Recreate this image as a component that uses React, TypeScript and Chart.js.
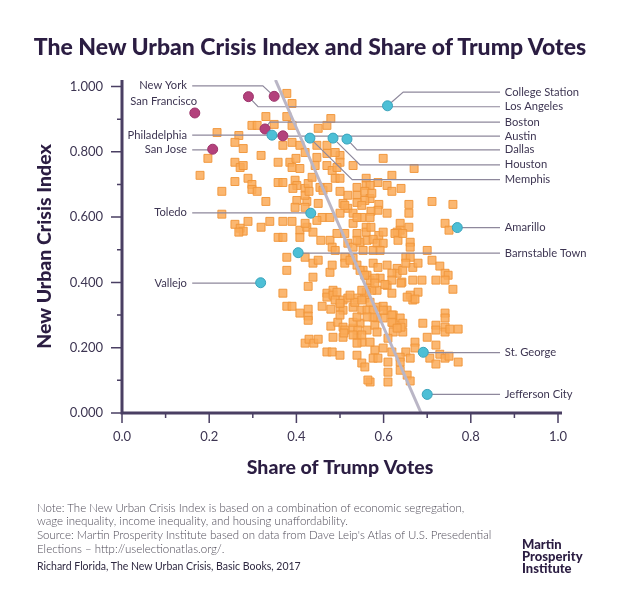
import React, { useEffect, useRef } from "react";
import { Chart, registerables } from "chart.js";

Chart.register(...registerables);

const TITLE = "The New Urban Crisis Index and Share of Trump Votes";
const X_TITLE = "Share of Trump Votes";
const Y_TITLE = "New Urban Crisis Index";

const xMajorTicks = [0, 0.2, 0.4, 0.6, 0.8, 1.0];
const xMinorTicks = [0.1, 0.3, 0.5, 0.7, 0.9];
const yMajorTicks = [0, 0.2, 0.4, 0.6, 0.8, 1.0];
const yMinorTicks = [0.1, 0.3, 0.5, 0.7, 0.9];

// Highlighted metros (magenta)
const magentaCities = ["New York", "Los Angeles", "San Francisco", "Boston", "Philadelphia", "San Jose"];
const magentaX = [0.349, 0.290, 0.167, 0.328, 0.369, 0.208];
const magentaY = [0.970, 0.969, 0.919, 0.870, 0.849, 0.808];

// Highlighted metros (teal)
const tealCities = ["College Station", "Austin", "Memphis", "Houston", "Dallas", "Toledo", "Barnstable Town", "Vallejo", "Amarillo", "St. George", "Jefferson City"];
const tealX = [0.609, 0.344, 0.431, 0.484, 0.516, 0.433, 0.404, 0.318, 0.769, 0.691, 0.700];
const tealY = [0.941, 0.851, 0.842, 0.842, 0.839, 0.612, 0.491, 0.399, 0.568, 0.186, 0.057];

// Trend line end points
const trendX = [0.352, 0.686];
const trendY = [1.02, 0];

// All other metros: [share of Trump votes, New Urban Crisis Index]
const otherMetros: [number, number][] = [
  [0.218,0.859],[0.268,0.850],[0.259,0.829],[0.278,0.810],[0.319,0.789],[0.197,0.780],[0.179,0.728],[0.259,0.768],[0.271,0.752],[0.278,0.758],
  [0.259,0.709],[0.289,0.719],[0.298,0.700],[0.298,0.685],[0.310,0.679],[0.229,0.679],[0.330,0.648],[0.229,0.609],[0.259,0.578],[0.271,0.566],
  [0.278,0.557],[0.289,0.587],[0.319,0.569],[0.339,0.587],[0.268,0.554],[0.330,0.908],[0.298,0.881],[0.310,0.881],
  [0.378,0.979],[0.390,0.948],[0.378,0.908],[0.349,0.884],[0.390,0.881],[0.450,0.872],[0.470,0.881],[0.479,0.902],[0.369,0.820],[0.390,0.829],
  [0.408,0.820],[0.420,0.798],[0.447,0.820],[0.470,0.820],[0.470,0.795],[0.358,0.768],[0.385,0.768],[0.399,0.780],[0.390,0.752],[0.408,0.749],
  [0.447,0.783],[0.443,0.758],[0.470,0.758],[0.482,0.743],[0.358,0.706],[0.369,0.706],[0.397,0.713],[0.401,0.697],[0.392,0.688],[0.420,0.688],
  [0.427,0.703],[0.436,0.722],[0.454,0.691],[0.461,0.682],[0.472,0.691],[0.401,0.651],[0.424,0.648],[0.450,0.642],[0.420,0.667],[0.429,0.679],
  [0.369,0.587],[0.390,0.587],[0.408,0.560],[0.424,0.569],[0.438,0.554],[0.459,0.599],[0.477,0.599],[0.420,0.630],[0.397,0.630],[0.358,0.538],
  [0.369,0.538],[0.408,0.538],[0.420,0.581],[0.447,0.590],
  [0.599,0.780],[0.670,0.749],[0.530,0.758],[0.500,0.789],[0.489,0.798],[0.500,0.768],[0.493,0.752],[0.489,0.719],[0.500,0.719],[0.560,0.719],
  [0.560,0.697],[0.587,0.706],[0.608,0.697],[0.619,0.728],[0.640,0.688],[0.619,0.679],[0.569,0.697],[0.539,0.691],[0.539,0.667],[0.557,0.679],
  [0.569,0.657],[0.557,0.651],[0.518,0.667],[0.500,0.679],[0.507,0.642],[0.518,0.627],[0.539,0.645],[0.550,0.636],[0.589,0.639],[0.587,0.621],
  [0.571,0.618],[0.608,0.612],[0.658,0.639],[0.658,0.612],[0.711,0.648],[0.759,0.639],[0.500,0.612],[0.530,0.612],[0.530,0.581],[0.550,0.599],
  [0.560,0.569],[0.560,0.554],[0.571,0.569],[0.589,0.544],[0.638,0.581],[0.638,0.560],[0.658,0.569],[0.631,0.554],[0.741,0.581],[0.750,0.560],
  [0.573,0.673],[0.511,0.636],[0.539,0.599],[0.569,0.599],
  [0.378,0.477],[0.420,0.477],[0.438,0.459],[0.450,0.468],[0.477,0.431],[0.482,0.453],[0.378,0.437],[0.438,0.416],[0.427,0.388],[0.369,0.367],
  [0.470,0.367],[0.470,0.355],[0.484,0.376],[0.484,0.361],[0.378,0.327],[0.390,0.327],[0.408,0.306],[0.427,0.318],[0.427,0.297],[0.427,0.284],
  [0.459,0.327],[0.479,0.318],[0.479,0.266],[0.420,0.214],[0.429,0.226],[0.440,0.214],[0.450,0.226],[0.470,0.187],[0.482,0.187],[0.456,0.529],
  [0.477,0.529],[0.482,0.508],
  [0.493,0.550],[0.511,0.550],[0.518,0.520],[0.530,0.508],[0.546,0.523],[0.562,0.529],[0.576,0.532],[0.585,0.520],[0.599,0.520],[0.626,0.550],
  [0.633,0.529],[0.644,0.550],[0.661,0.523],[0.661,0.508],[0.553,0.498],[0.576,0.498],[0.592,0.498],[0.511,0.477],[0.530,0.474],[0.539,0.453],
  [0.553,0.437],[0.562,0.422],[0.576,0.459],[0.587,0.446],[0.608,0.453],[0.631,0.443],[0.631,0.428],[0.644,0.437],[0.667,0.446],[0.569,0.407],
  [0.592,0.413],[0.608,0.391],[0.569,0.382],[0.585,0.376],[0.619,0.428],[0.642,0.401],[0.667,0.407],[0.688,0.407],[0.679,0.370],[0.661,0.361],
  [0.667,0.346],[0.493,0.370],[0.489,0.346],[0.507,0.346],[0.518,0.352],[0.500,0.324],[0.507,0.315],[0.530,0.324],[0.539,0.352],[0.557,0.352],
  [0.569,0.339],[0.550,0.315],[0.562,0.315],[0.585,0.324],[0.608,0.315],[0.599,0.291],[0.585,0.291],[0.622,0.300],[0.638,0.291],[0.622,0.275],
  [0.644,0.275],[0.690,0.275],[0.495,0.278],[0.507,0.263],[0.530,0.260],[0.546,0.275],[0.562,0.254],[0.580,0.269],[0.585,0.248],[0.622,0.248],
  [0.644,0.248],[0.484,0.232],[0.507,0.232],[0.539,0.239],[0.700,0.232],[0.700,0.498],[0.711,0.468],[0.729,0.450],[0.741,0.428],[0.748,0.422],
  [0.759,0.379],[0.679,0.459],[0.651,0.477],[0.661,0.477],[0.651,0.459],[0.720,0.407],[0.741,0.407],[0.640,0.398],[0.619,0.407],[0.603,0.394],
  [0.580,0.413],[0.573,0.376],[0.560,0.370],[0.550,0.376],[0.619,0.367],[0.672,0.349],[0.654,0.355],[0.741,0.306],[0.741,0.291],[0.720,0.269],
  [0.720,0.254],[0.741,0.263],[0.741,0.248],[0.752,0.257],[0.771,0.257],[0.720,0.208],[0.672,0.217],[0.672,0.199],[0.651,0.187],[0.661,0.168],
  [0.706,0.168],[0.720,0.150],[0.729,0.180],[0.741,0.168],[0.750,0.174],[0.771,0.156],[0.638,0.171],[0.638,0.156],[0.619,0.300],[0.619,0.278],
  [0.640,0.263],[0.631,0.260],[0.599,0.327],[0.599,0.315],[0.610,0.229],[0.599,0.199],[0.619,0.187],[0.580,0.193],[0.576,0.168],[0.587,0.168],
  [0.610,0.156],[0.610,0.125],[0.638,0.131],[0.654,0.116],[0.569,0.095],[0.610,0.095],[0.539,0.177],[0.550,0.153],[0.557,0.141],[0.500,0.177],
  [0.550,0.217],[0.569,0.217],[0.541,0.254],[0.511,0.254],[0.489,0.498],[0.511,0.459],[0.523,0.468],[0.546,0.437],[0.557,0.422],[0.580,0.398],
  [0.500,0.336],[0.534,0.339],[0.550,0.346],[0.576,0.315],[0.576,0.294],[0.599,0.554],[0.539,0.550],[0.539,0.529],
  [0.523,0.361],[0.500,0.300],[0.530,0.278],[0.509,0.245],[0.530,0.239],[0.550,0.239],[0.539,0.214],[0.564,0.101],[0.539,0.294],[0.562,0.294],
  [0.661,0.098],
];

// Callout labels (label positions in data units)
type LabelSpec = { city: string; side: "left" | "right"; labelY: number; elbowX?: number; noLine?: boolean; textX?: number };
const labelSpecs: LabelSpec[] = [
  { city: "New York", side: "left", labelY: 1.002, elbowX: 0.323 },
  { city: "San Francisco", side: "left", labelY: 0.956, noLine: true, textX: 0.172 },
  { city: "Philadelphia", side: "left", labelY: 0.851 },
  { city: "San Jose", side: "left", labelY: 0.806 },
  { city: "Toledo", side: "left", labelY: 0.613 },
  { city: "Vallejo", side: "left", labelY: 0.398 },
  { city: "College Station", side: "right", labelY: 0.983, elbowX: 0.645 },
  { city: "Los Angeles", side: "right", labelY: 0.938, elbowX: 0.312 },
  { city: "Boston", side: "right", labelY: 0.891, elbowX: 0.339 },
  { city: "Austin", side: "right", labelY: 0.848 },
  { city: "Dallas", side: "right", labelY: 0.806, elbowX: 0.539 },
  { city: "Houston", side: "right", labelY: 0.760, elbowX: 0.546 },
  { city: "Memphis", side: "right", labelY: 0.715, elbowX: 0.528 },
  { city: "Amarillo", side: "right", labelY: 0.568 },
  { city: "Barnstable Town", side: "right", labelY: 0.490 },
  { city: "St. George", side: "right", labelY: 0.185 },
  { city: "Jefferson City", side: "right", labelY: 0.057 },
];
const LEFT_TEXT_X = 0.149;
const LEFT_LINE_X = 0.161;
const RIGHT_TEXT_X = 0.878;
const RIGHT_LINE_X = 0.867;

const INK = "#2b1d42";
const AXIS = "#4a3f63";
const LABEL = "#3d3552";
const LEADER = "#8e889c";
const FONT = "Lato, 'Open Sans', sans-serif";

function cityPoint(name: string) {
  let i = magentaCities.indexOf(name);
  if (i >= 0) return { x: magentaX[i], y: magentaY[i] };
  i = tealCities.indexOf(name);
  return { x: tealX[i], y: tealY[i] };
}

const calloutPlugin = {
  id: "callouts",
  afterDatasetDraw(chart: any, args: any) {
    if (args.index !== 0) return;
    const { ctx, scales } = chart;
    const xs = scales.x, ys = scales.y;
    ctx.save();
    ctx.strokeStyle = LEADER;
    ctx.lineWidth = 1.2;
    for (const s of labelSpecs) {
      if (s.noLine) continue;
      const p = cityPoint(s.city);
      const startX = xs.getPixelForValue(s.side === "left" ? LEFT_LINE_X : RIGHT_LINE_X);
      const ly = ys.getPixelForValue(s.labelY);
      const ex = xs.getPixelForValue(s.elbowX !== undefined ? s.elbowX : p.x);
      ctx.beginPath();
      ctx.moveTo(startX, ly);
      ctx.lineTo(ex, ly);
      ctx.lineTo(xs.getPixelForValue(p.x), ys.getPixelForValue(p.y));
      ctx.stroke();
    }
    ctx.restore();
  },
  afterDraw(chart: any) {
    const { ctx, scales, chartArea } = chart;
    const xs = scales.x, ys = scales.y;
    ctx.save();
    // axis lines
    ctx.strokeStyle = AXIS;
    ctx.lineWidth = 3;
    ctx.beginPath();
    ctx.moveTo(chartArea.left, chartArea.top);
    ctx.lineTo(chartArea.left, chartArea.bottom + 1.5);
    ctx.moveTo(chartArea.left - 1.5, chartArea.bottom);
    ctx.lineTo(chartArea.right + 4, chartArea.bottom);
    ctx.stroke();
    // ticks
    ctx.lineWidth = 1.5;
    ctx.beginPath();
    for (const v of xMajorTicks) { const px = xs.getPixelForValue(v); ctx.moveTo(px, chartArea.bottom); ctx.lineTo(px, chartArea.bottom + 10); }
    for (const v of xMinorTicks) { const px = xs.getPixelForValue(v); ctx.moveTo(px, chartArea.bottom); ctx.lineTo(px, chartArea.bottom + 5); }
    for (const v of yMajorTicks) { const py = ys.getPixelForValue(v); ctx.moveTo(chartArea.left, py); ctx.lineTo(chartArea.left - 11, py); }
    for (const v of yMinorTicks) { const py = ys.getPixelForValue(v); ctx.moveTo(chartArea.left, py); ctx.lineTo(chartArea.left - 5, py); }
    ctx.stroke();
    // callout labels
    ctx.fillStyle = LABEL;
    ctx.font = `11.2px ${FONT}`;
    ctx.textBaseline = "middle";
    for (const s of labelSpecs) {
      const ly = ys.getPixelForValue(s.labelY);
      if (s.side === "left") {
        ctx.textAlign = "right";
        ctx.fillText(s.city, xs.getPixelForValue(s.textX !== undefined ? s.textX : LEFT_TEXT_X), ly);
      } else {
        ctx.textAlign = "left";
        ctx.fillText(s.city, xs.getPixelForValue(RIGHT_TEXT_X), ly);
      }
    }
    ctx.restore();
  },
};

export default function App() {
  const ref = useRef<HTMLCanvasElement | null>(null);
  useEffect(() => {
    if (!ref.current) return;
    const chart = new Chart(ref.current, {
      type: "scatter",
      data: {
        datasets: [
          {
            label: "Other metros",
            data: otherMetros.map(([x, y]) => ({ x, y })),
            pointStyle: "rect",
            pointRadius: 5.6,
            backgroundColor: "rgba(250,170,88,0.85)",
            borderColor: "rgba(240,150,58,0.95)",
            borderWidth: 1,
            order: 3,
          },
          {
            type: "line",
            label: "Trend",
            data: trendX.map((x, i) => ({ x, y: trendY[i] })),
            borderColor: "#bab6c6",
            borderWidth: 3,
            pointRadius: 0,
            showLine: true,
            fill: false,
            order: 2,
          } as any,
          {
            label: "Magenta metros",
            data: magentaX.map((x, i) => ({ x, y: magentaY[i] })),
            pointStyle: "circle",
            pointRadius: 5,
            backgroundColor: "#b3417c",
            borderColor: "#9c336a",
            borderWidth: 1,
            order: 1,
          },
          {
            label: "Teal metros",
            data: tealX.map((x, i) => ({ x, y: tealY[i] })),
            pointStyle: "circle",
            pointRadius: 5,
            backgroundColor: "#4dbfd6",
            borderColor: "#3aa3bb",
            borderWidth: 1,
            order: 0,
          },
        ],
      },
      options: {
        responsive: false,
        maintainAspectRatio: false,
        animation: false,
        devicePixelRatio: 1,
        layout: { padding: { top: 80, right: 62, bottom: 127, left: 0 } },
        plugins: {
          legend: { display: false },
          tooltip: { enabled: false },
          title: { display: false },
        },
        scales: {
          x: {
            type: "linear",
            min: 0,
            max: 1,
            afterBuildTicks: (s: any) => { s.ticks = xMajorTicks.map((v) => ({ value: v })); },
            afterFit: (s: any) => { s.height = 70; },
            grid: { display: false, drawTicks: false },
            border: { display: false },
            ticks: {
              padding: 16,
              color: LABEL,
              font: { family: FONT, size: 13 },
              callback: (v: any) => Number(v).toFixed(1),
            },
            title: {
              display: true,
              text: X_TITLE,
              color: INK,
              font: { family: FONT, size: 19.5, weight: "900" },
              padding: { top: 0, bottom: 4 },
            },
          },
          y: {
            type: "linear",
            min: 0,
            max: 1.02,
            afterBuildTicks: (s: any) => { s.ticks = yMajorTicks.map((v) => ({ value: v })); },
            afterFit: (s: any) => { s.width = 122; },
            grid: { display: false, drawTicks: false },
            border: { display: false },
            ticks: {
              padding: 19,
              color: LABEL,
              font: { family: FONT, size: 13 },
              callback: (v: any) => Number(v).toFixed(3),
            },
            title: {
              display: true,
              text: Y_TITLE,
              color: INK,
              font: { family: FONT, size: 19.5, weight: "900" },
              padding: { top: 33, bottom: 0 },
            },
          },
        },
      },
      plugins: [calloutPlugin],
    });
    return () => chart.destroy();
  }, []);

  const abs = (top: number, left: number, extra: React.CSSProperties = {}): React.CSSProperties => ({
    position: "absolute",
    top,
    left,
    whiteSpace: "nowrap",
    fontFamily: FONT,
    ...extra,
  });

  const note: React.CSSProperties = { fontSize: 11.5, color: "#4f4b58", fontWeight: 300, lineHeight: "14px" };

  return (
    <div style={{ position: "absolute", left: 0, top: 0, width: 620, height: 610, background: "#fff", overflow: "hidden" }}>
      <canvas ref={ref} width={620} height={610} style={{ position: "absolute", left: 0, top: 0, width: 620, height: 610 }} />
      <div style={abs(32, 0, { width: 620, textAlign: "center", fontSize: 23, fontWeight: 900, color: INK, lineHeight: "28px" })}>{TITLE}</div>
      <div style={abs(501, 37, note)}>Note: The New Urban Crisis Index is based on a combination of economic segregation,</div>
      <div style={abs(514, 37, note)}>wage inequality, income inequality, and housing unaffordability.</div>
      <div style={abs(528, 37, note)}>Source: Martin Prosperity Institute based on data from Dave Leip's Atlas of U.S. Presedential</div>
      <div style={abs(542, 37, note)}>Elections – http://uselectionatlas.org/.</div>
      <div style={abs(559, 37, { fontSize: 10.5, color: "#2e2840", lineHeight: "14px" })}>Richard Florida, The New Urban Crisis, Basic Books, 2017</div>
      <div style={abs(538, 522, { fontSize: 13, fontWeight: 900, color: INK, lineHeight: "12px" })}>
        <div>Martin</div>
        <div>Prosperity</div>
        <div>Institute</div>
      </div>
    </div>
  );
}
